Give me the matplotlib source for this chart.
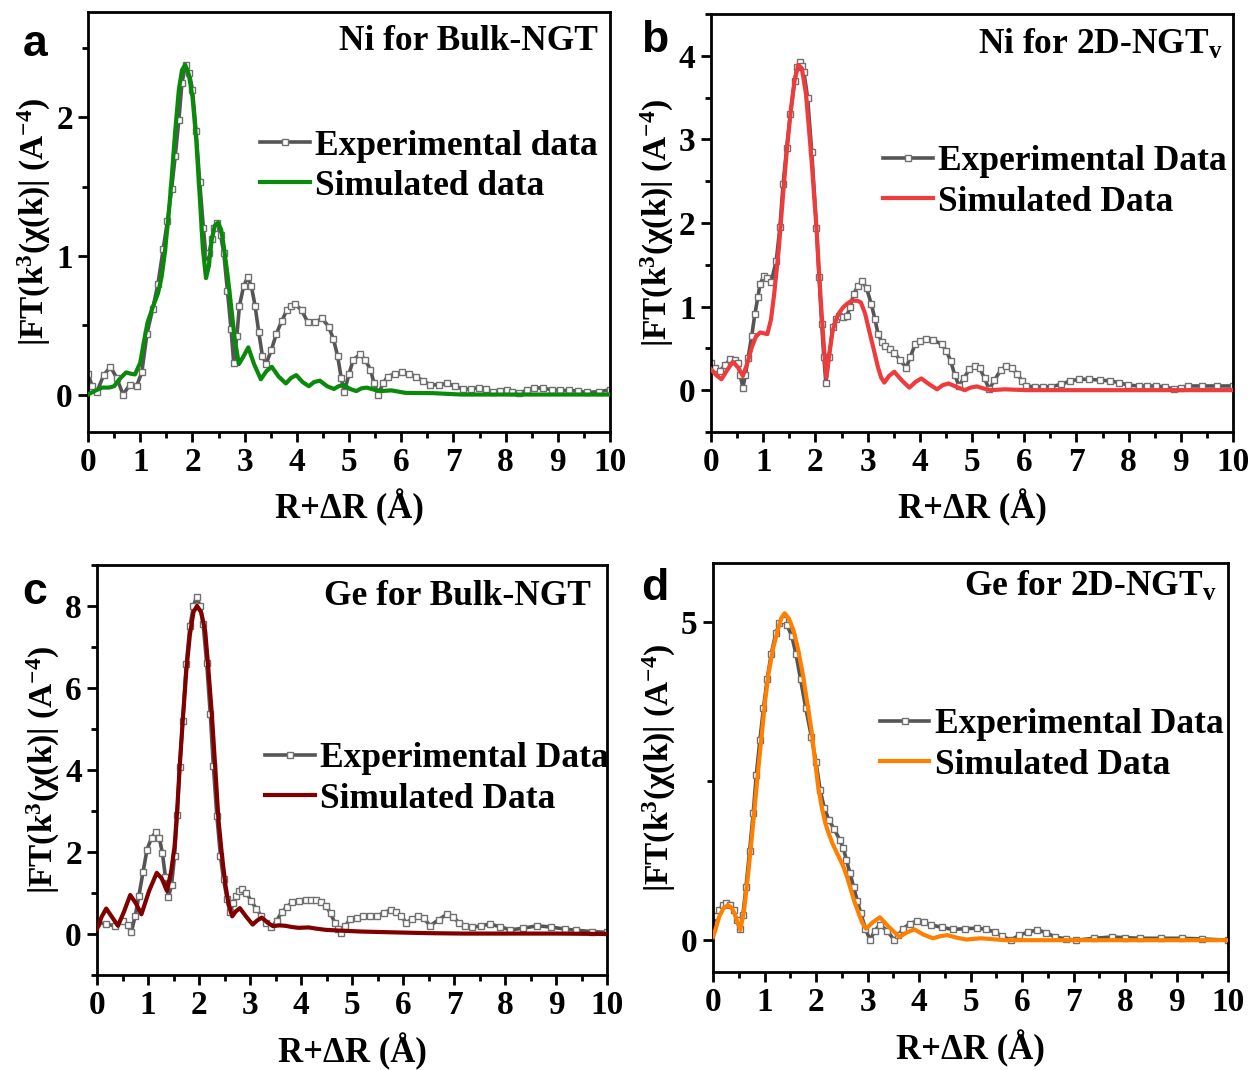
import matplotlib
matplotlib.use("Agg")
import matplotlib.pyplot as plt
from matplotlib.ticker import MultipleLocator

plt.rcParams['font.family'] = ['Liberation Serif', 'DejaVu Serif']
plt.rcParams['font.weight'] = 'bold'
plt.rcParams['mathtext.fontset'] = 'custom'
plt.rcParams['mathtext.rm'] = 'Liberation Serif:bold'
plt.rcParams['mathtext.bf'] = 'Liberation Serif:bold'
plt.rcParams['mathtext.it'] = 'Liberation Serif:bold'

# ---------------- data ----------------
a_exp_x = [0.0, 0.08, 0.17, 0.30, 0.43, 0.55, 0.67, 0.8, 0.93, 1.03, 1.13, 1.24, 1.34, 1.44, 1.52, 1.6, 1.67, 1.74, 1.80,
           1.87, 1.94, 2.0, 2.07, 2.14, 2.21, 2.27, 2.32, 2.37, 2.42, 2.47, 2.54, 2.6, 2.67, 2.74, 2.79, 2.85, 2.9, 2.98,
           3.06, 3.13, 3.2, 3.27, 3.34, 3.41, 3.51, 3.61, 3.71, 3.81, 3.89, 3.97, 4.09, 4.21, 4.35, 4.48, 4.61, 4.70,
           4.78, 4.85, 4.91, 5.0, 5.08, 5.21, 5.31, 5.41, 5.48, 5.56, 5.65, 5.74, 5.88, 6.01, 6.15, 6.28, 6.42, 6.55, 6.72,
           6.88, 7.03, 7.18, 7.33, 7.48, 7.62, 7.75, 7.9, 8.02, 8.13, 8.25, 8.4, 8.55, 8.72, 8.88, 9.05, 9.22, 9.38, 9.55,
           9.78, 10.0]
a_exp_y = [0.15, 0.06, 0.02, 0.14, 0.20, 0.12, 0.0, 0.07, 0.06, 0.16, 0.44, 0.62, 0.80, 1.05, 1.25, 1.48, 1.72, 1.98, 2.25,
           2.38, 2.32, 2.2, 1.9, 1.53, 1.2, 0.95, 1.02, 1.12, 1.2, 1.24, 1.15, 1.02, 0.75, 0.47, 0.23, 0.42, 0.64, 0.78,
           0.85, 0.78, 0.64, 0.45, 0.28, 0.22, 0.32, 0.44, 0.53, 0.61, 0.64, 0.65, 0.61, 0.52, 0.52, 0.55, 0.49, 0.40,
           0.28, 0.12, 0.02, 0.15, 0.25, 0.29, 0.25, 0.18, 0.08, 0.0, 0.08, 0.13, 0.15, 0.16, 0.15, 0.13, 0.10, 0.07, 0.07,
           0.08, 0.06, 0.04, 0.04, 0.05, 0.04, 0.02, 0.025, 0.03, 0.02, 0.01, 0.03, 0.05, 0.045, 0.035, 0.03, 0.03, 0.025,
           0.015, 0.02, 0.035]
a_sim_x = [0.0, 0.15, 0.27, 0.4, 0.5, 0.6, 0.73, 0.82, 0.9, 1.0, 1.07, 1.14, 1.24, 1.34, 1.41, 1.47, 1.54, 1.6, 1.67, 1.74,
           1.80, 1.86, 1.93, 2.0, 2.07, 2.14, 2.2, 2.26, 2.31, 2.37, 2.43, 2.49, 2.55, 2.6, 2.67, 2.74, 2.81, 2.89, 2.97,
           3.07, 3.18, 3.31, 3.42, 3.52, 3.65, 3.79, 3.89, 3.99, 4.11, 4.23, 4.33, 4.44, 4.58, 4.71, 4.8, 4.89, 5.02, 5.14,
           5.24, 5.34, 5.48, 5.61, 5.81, 6.08, 6.6, 7.15, 8.0, 9.0, 10.0]
a_sim_y = [0.0, 0.03, 0.05, 0.05, 0.06, 0.11, 0.16, 0.15, 0.145, 0.23, 0.38, 0.52, 0.63, 0.73, 0.85, 1.02, 1.28, 1.55, 1.9,
           2.2, 2.34, 2.38, 2.31, 2.15, 1.85, 1.43, 1.05, 0.84, 0.92, 1.12, 1.22, 1.24, 1.19, 1.07, 0.87, 0.64, 0.40, 0.22,
           0.27, 0.34, 0.22, 0.11, 0.17, 0.20, 0.13, 0.08, 0.12, 0.14, 0.09, 0.06, 0.09, 0.10, 0.06, 0.04, 0.06, 0.07, 0.04,
           0.025, 0.045, 0.05, 0.035, 0.025, 0.03, 0.012, 0.01, 0.0, 0.0, 0.0, 0.0]

b_exp_x = [0.0, 0.08, 0.17, 0.27, 0.37, 0.45, 0.51, 0.56, 0.61, 0.66, 0.71, 0.78, 0.84, 0.9, 0.94, 1.01, 1.08, 1.15, 1.25,
           1.32, 1.38, 1.45, 1.52, 1.6, 1.65, 1.70, 1.74, 1.78, 1.85, 1.93, 2.02, 2.07, 2.12, 2.16, 2.20, 2.26, 2.33, 2.4,
           2.46, 2.53, 2.60, 2.67, 2.73, 2.82, 2.90, 2.98, 3.07, 3.14, 3.20, 3.27, 3.34, 3.43, 3.51, 3.62, 3.74, 3.82, 3.91,
           4.0, 4.11, 4.25, 4.42, 4.51, 4.59, 4.67, 4.75, 4.85, 4.95, 5.06, 5.15, 5.24, 5.33, 5.43, 5.55, 5.66, 5.77, 5.87,
           5.96, 6.04, 6.2, 6.35, 6.51, 6.71, 6.88, 7.05, 7.25, 7.45, 7.65, 7.82, 7.99, 8.2, 8.35, 8.53, 8.7, 8.87, 9.0,
           9.14, 9.4, 9.7, 10.0]
b_exp_y = [0.32, 0.26, 0.23, 0.30, 0.37, 0.36, 0.33, 0.18, 0.03, 0.18, 0.39, 0.65, 0.91, 1.12, 1.27, 1.36, 1.34, 1.29, 1.55,
           1.95, 2.46, 2.90, 3.30, 3.70, 3.86, 3.92, 3.88, 3.80, 3.50, 2.85, 1.94, 1.35, 0.79, 0.40, 0.09, 0.40, 0.75, 0.85,
           0.89, 0.88, 0.89, 1.0, 1.15, 1.25, 1.30, 1.22, 1.03, 0.85, 0.67, 0.58, 0.53, 0.49, 0.45, 0.36, 0.27, 0.40, 0.55,
           0.59, 0.61, 0.60, 0.55, 0.47, 0.35, 0.18, 0.05, 0.15, 0.25, 0.29, 0.26, 0.14, 0.01, 0.12, 0.24, 0.29, 0.26, 0.19,
           0.11, 0.05, 0.04, 0.04, 0.04, 0.07, 0.11, 0.13, 0.13, 0.12, 0.11, 0.09, 0.06, 0.05, 0.05, 0.05, 0.04, 0.01, 0.03,
           0.05, 0.05, 0.05, 0.05]
b_sim_x = [0.0, 0.1, 0.2, 0.31, 0.42, 0.52, 0.61, 0.7, 0.78, 0.86, 0.94, 1.01, 1.08, 1.15, 1.21, 1.3, 1.38, 1.45, 1.52, 1.6,
           1.67, 1.74, 1.82, 1.92, 2.02, 2.07, 2.12, 2.17, 2.21, 2.27, 2.33, 2.4, 2.46, 2.53, 2.6, 2.67, 2.73, 2.8, 2.87,
           2.95, 3.03, 3.12, 3.20, 3.26, 3.32, 3.41, 3.51, 3.65, 3.80, 3.92, 4.03, 4.18, 4.33, 4.44, 4.55, 4.7, 4.86, 4.97,
           5.09, 5.22, 5.36, 5.63, 6.04, 7.0, 8.0, 9.0, 10.0]
b_sim_y = [0.25, 0.18, 0.13, 0.24, 0.34, 0.27, 0.17, 0.33, 0.51, 0.64, 0.69, 0.68, 0.67, 0.85, 1.15, 1.7, 2.34, 2.85, 3.30,
           3.70, 3.89, 3.85, 3.54, 2.8, 1.94, 1.40, 0.91, 0.45, 0.15, 0.45, 0.71, 0.85, 0.93, 0.99, 1.03, 1.06, 1.07, 1.07,
           1.05, 0.92, 0.71, 0.48, 0.27, 0.15, 0.09, 0.17, 0.22, 0.12, 0.03, 0.10, 0.14, 0.07, 0.01, 0.06, 0.08, 0.04, 0.0,
           0.03, 0.045, 0.02, 0.0, 0.01, 0.0, 0.0, 0.0, 0.0, 0.0]

c_exp_x = [0.0, 0.18, 0.35, 0.51, 0.6, 0.67, 0.75, 0.82, 0.9, 0.98, 1.07, 1.15, 1.22, 1.28, 1.34, 1.40, 1.46, 1.52, 1.57,
           1.62, 1.68, 1.75, 1.82, 1.89, 1.95, 2.02, 2.08, 2.15, 2.22, 2.28, 2.35, 2.42, 2.48, 2.55, 2.61, 2.67, 2.72, 2.79,
           2.85, 2.93, 3.02, 3.12, 3.22, 3.32, 3.42, 3.52, 3.62, 3.72, 3.82, 3.95, 4.09, 4.19, 4.29, 4.39, 4.49, 4.58, 4.66,
           4.73, 4.79, 4.87, 4.96, 5.09, 5.22, 5.35, 5.49, 5.63, 5.76, 5.86, 5.96, 6.06, 6.18, 6.29, 6.41, 6.53, 6.7, 6.86,
           6.98, 7.09, 7.22, 7.36, 7.53, 7.70, 7.9, 8.10, 8.35, 8.63, 8.9, 9.17, 9.4, 9.7, 10.0]
c_exp_y = [0.28, 0.24, 0.20, 0.32, 0.22, 0.04, 0.45, 0.93, 1.5, 2.06, 2.35, 2.48, 2.35, 1.98, 1.4, 0.89, 1.2, 1.90, 2.9,
           4.08, 5.2, 6.59, 7.5, 8.0, 8.22, 8.0, 7.56, 6.6, 5.37, 4.1, 2.87, 1.9, 1.33, 0.85, 0.53, 0.75, 0.93, 1.05,
           1.09, 1.0, 0.81, 0.62, 0.44, 0.28, 0.16, 0.32, 0.53, 0.66, 0.77, 0.81, 0.83, 0.84, 0.83, 0.78, 0.69, 0.50, 0.28,
           0.12, 0.02, 0.2, 0.36, 0.40, 0.43, 0.43, 0.44, 0.52, 0.59, 0.54, 0.44, 0.28, 0.36, 0.44, 0.38, 0.20, 0.35, 0.48,
           0.42, 0.28, 0.20, 0.16, 0.20, 0.24, 0.18, 0.10, 0.14, 0.20, 0.17, 0.12, 0.09, 0.06, 0.04]
c_sim_x = [0.0, 0.09, 0.18, 0.3, 0.41, 0.53, 0.65, 0.76, 0.87, 1.02, 1.17, 1.27, 1.37, 1.45, 1.52, 1.57, 1.62, 1.68, 1.75,
           1.82, 1.89, 1.96, 2.04, 2.12, 2.18, 2.25, 2.32, 2.38, 2.45, 2.52, 2.58, 2.65, 2.72, 2.80, 2.92, 3.05, 3.14, 3.23,
           3.34, 3.45, 3.57, 3.69, 3.82, 3.95, 4.15, 4.3, 4.49, 4.8, 5.16, 5.8, 6.49, 7.2, 8.0, 9.0, 10.0]
c_sim_y = [0.12, 0.42, 0.62, 0.40, 0.20, 0.55, 0.95, 0.75, 0.48, 1.05, 1.49, 1.35, 1.05, 1.5, 2.14, 3.0, 4.08, 5.2, 6.42,
           7.3, 7.85, 8.0, 7.85, 7.39, 6.5, 5.37, 4.0, 2.79, 1.9, 1.17, 0.72, 0.43, 0.55, 0.63, 0.43, 0.23, 0.33, 0.40,
           0.28, 0.19, 0.21, 0.20, 0.17, 0.15, 0.16, 0.13, 0.10, 0.08, 0.06, 0.04, 0.02, 0.01, 0.01, 0.01, 0.0]

d_exp_x = [0.0, 0.06, 0.12, 0.19, 0.26, 0.33, 0.40, 0.46, 0.52, 0.58, 0.64, 0.71, 0.78, 0.84, 0.91, 0.98, 1.05, 1.13, 1.22,
           1.29, 1.36, 1.44, 1.53, 1.61, 1.70, 1.80, 1.91, 2.0, 2.08, 2.16, 2.25, 2.35, 2.46, 2.53, 2.59, 2.66, 2.73, 2.80,
           2.87, 2.96, 3.05, 3.14, 3.24, 3.38, 3.52, 3.6, 3.69, 3.82, 3.96, 4.1, 4.24, 4.45, 4.65, 4.9, 5.13, 5.3, 5.47,
           5.62, 5.78, 5.95, 6.12, 6.30, 6.47, 6.64, 6.85, 7.05, 7.4, 7.74, 8.0, 8.29, 8.7, 9.11, 9.5, 10.0]
d_exp_y = [0.26, 0.38, 0.47, 0.55, 0.59, 0.55, 0.47, 0.32, 0.17, 0.40, 0.84, 1.40, 2.0, 2.6, 3.15, 3.65, 4.10, 4.50, 4.83,
           4.98, 5.04, 4.95, 4.78, 4.50, 4.10, 3.65, 3.20, 2.80, 2.36, 2.08, 1.89, 1.75, 1.58, 1.45, 1.26, 1.05, 0.84, 0.62,
           0.42, 0.18, 0.0, 0.15, 0.24, 0.15, 0.0, 0.08, 0.18, 0.26, 0.30, 0.28, 0.24, 0.20, 0.17, 0.18, 0.19, 0.17, 0.13,
           0.06, 0.0, 0.08, 0.13, 0.16, 0.12, 0.05, 0.02, 0.0, 0.03, 0.05, 0.04, 0.03, 0.03, 0.03, 0.02, 0.0]
d_sim_x = [0.0, 0.06, 0.12, 0.2, 0.29, 0.35, 0.40, 0.47, 0.53, 0.6, 0.67, 0.74, 0.81, 0.88, 0.95, 1.01, 1.08, 1.17, 1.26,
           1.33, 1.39, 1.47, 1.56, 1.65, 1.74, 1.82, 1.91, 1.97, 2.04, 2.11, 2.18, 2.25, 2.32, 2.43, 2.53, 2.6, 2.66, 2.74,
           2.83, 2.9, 2.97, 3.1, 3.24, 3.4, 3.62, 3.76, 3.91, 4.08, 4.27, 4.4, 4.55, 4.73, 4.92, 5.2, 5.68, 7.0, 8.5, 10.0]
d_sim_y = [0.05, 0.2, 0.37, 0.5, 0.55, 0.52, 0.45, 0.3, 0.16, 0.45, 0.95, 1.5, 2.10, 2.7, 3.26, 3.75, 4.20, 4.6, 4.88,
           5.07, 5.14, 5.06, 4.88, 4.58, 4.20, 3.78, 3.31, 2.9, 2.42, 2.1, 1.84, 1.67, 1.52, 1.33, 1.16, 1.0, 0.84, 0.62,
           0.42, 0.27, 0.18, 0.28, 0.36, 0.22, 0.05, 0.12, 0.17, 0.09, 0.03, 0.06, 0.08, 0.04, 0.01, 0.03, 0.0, 0.0, 0.0, 0.0]

panels = [
    dict(ex=a_exp_x, ey=a_exp_y, sx=a_sim_x, sy=a_sim_y, color='#0a8a0a', ylim=(-0.27, 2.76), major=1, minor=0.5,
         title='Ni for Bulk-NGT', labels=('Experimental data', 'Simulated data'), tag='a',
         rect=(0.0702, 0.5963, 0.4163, 0.3925), tpos=(0.977, 0.929), lpos=(0.33, 0.633)),
    dict(ex=b_exp_x, ey=b_exp_y, sx=b_sim_x, sy=b_sim_y, color='#ee3b3b', ylim=(-0.5, 4.5), major=1, minor=0.5,
         title=r'Ni for 2D-NGT$_\mathrm{v}$', labels=('Experimental Data', 'Simulated Data'), tag='b',
         rect=(0.567, 0.5963, 0.4163, 0.3907), tpos=(0.979, 0.926), lpos=(0.33, 0.598)),
    dict(ex=c_exp_x, ey=c_exp_y, sx=c_sim_x, sy=c_sim_y, color='#800000', ylim=(-1.0, 9.0), major=2, minor=1,
         title='Ge for Bulk-NGT', labels=('Experimental Data', 'Simulated Data'), tag='c',
         rect=(0.0774, 0.0888, 0.4067, 0.3832), tpos=(0.969, 0.922), lpos=(0.33, 0.478)),
    dict(ex=d_exp_x, ey=d_exp_y, sx=d_sim_x, sy=d_sim_y, color='#ff8000', ylim=(-0.5, 5.93), major=5, minor=2.5,
         title=r'Ge for 2D-NGT$_\mathrm{v}$', labels=('Experimental Data', 'Simulated Data'), tag='d',
         rect=(0.5686, 0.0916, 0.4107, 0.3822), tpos=(0.977, 0.941), lpos=(0.324, 0.555)),
]
tag_pos = {'a': (35, 44), 'b': (655, 40), 'c': (35, 592), 'd': (655, 588)}

fig = plt.figure(figsize=(12.54, 10.70), dpi=100)
for p in panels:
    ax = fig.add_axes(p['rect'])
    ax.plot(p['ex'], p['ey'], color='#555555', lw=2.6, marker='s', ms=4.5, mfc='white', mec='#707070', mew=1.0,
            label=p['labels'][0], zorder=2)
    ax.plot(p['sx'], p['sy'], color=p['color'], lw=3.0, label=p['labels'][1], zorder=3)
    ax.set_xlim(0, 10)
    ax.set_ylim(*p['ylim'])
    ax.xaxis.set_major_locator(MultipleLocator(1))
    ax.xaxis.set_minor_locator(MultipleLocator(0.5))
    ax.yaxis.set_major_locator(MultipleLocator(p['major']))
    ax.yaxis.set_minor_locator(MultipleLocator(p['minor']))
    ax.tick_params(which='both', direction='out', width=2.0, top=False, right=False)
    ax.tick_params(which='major', length=7, labelsize=24, pad=4)
    ax.tick_params(which='minor', length=4)
    for s in ax.spines.values():
        s.set_linewidth(2.0)
    for lab in ax.get_xticklabels() + ax.get_yticklabels():
        lab.set_fontweight('bold')
    ax.set_xlabel('R+ΔR (Å)', fontsize=25, fontweight='bold', labelpad=8)
    ax.set_ylabel(r'|FT(k$^{3}$(χ(k)| (A$^{-4}$)', fontsize=24, fontweight='bold', labelpad=2)
    ax.text(p['tpos'][0], p['tpos'][1], p['title'], transform=ax.transAxes, ha='right', va='center',
            fontsize=25.5, fontweight='bold')
    ax.legend(loc='center left', bbox_to_anchor=p['lpos'], frameon=False,
              handlelength=1.4, handletextpad=0.15, labelspacing=0.2, borderpad=0, borderaxespad=0,
              prop={'size': 25.5, 'weight': 'bold'})
    tx, ty = tag_pos[p['tag']]
    fig.text(tx / 1254, 1 - ty / 1070, p['tag'], fontsize=32, fontweight='bold', family='Liberation Sans',
             ha='center', va='center')

fig.savefig('out.png', dpi=100)
